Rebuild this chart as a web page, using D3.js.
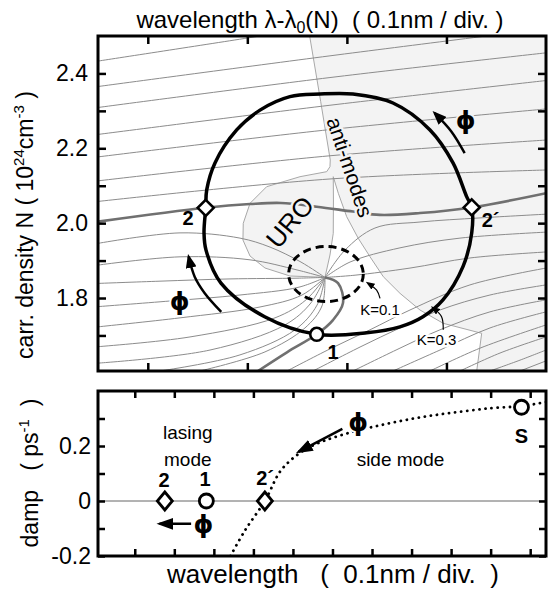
<!DOCTYPE html>
<html>
<head>
<meta charset="utf-8">
<script src="https://cdn.jsdelivr.net/npm/d3@7/dist/d3.min.js"></script>
<style>
  body { margin: 0; background: #fff; }
  text { font-family: "Liberation Sans", Arial, Helvetica, sans-serif; white-space: pre; }
  text.phi { font-family: "DejaVu Sans", sans-serif; font-weight: bold; }
</style>
</head>
<body>
<svg id="chart" width="550" height="590"></svg>
<script>

// ---------- top panel: x in 0.1nm divisions, N in 10^24 cm^-3 ----------
var nTicks = [1.7, 1.8, 1.9, 2.0, 2.1, 2.2, 2.3, 2.4]
var nLabels = [1.8, 2.0, 2.2, 2.4]
var nLabelText = ["1.8", "2.0", "2.2", "2.4"]
var lambdaTicks = [0.5, 1.5, 2.5, 3.5]

// thin contour lines
var contourLines = [
  [[0,2.433],[1.51,2.495],[2.33,2.53]],
  [[0,2.365],[2.33,2.447],[4.5,2.52]],
  [[0,2.309],[2.33,2.389],[4.5,2.455]],
  [[0,2.237],[2.33,2.315],[4.5,2.381]],
  [[0,2.177],[2.33,2.250],[4.5,2.305]],
  [[0,2.113],[2.33,2.180],[4.5,2.222]],
  [[0,2.058],[2.33,2.118],[4.5,2.142]],
  // running into the singular point from the left / bottom
  [[2.280,1.855],[2.039,1.896],[1.728,1.936],[1.426,1.960],[0.824,1.974],[0,1.946]],
  [[2.280,1.855],[1.999,1.875],[1.527,1.902],[0.824,1.910],[0,1.888]],
  [[2.280,1.855],[1.999,1.853],[1.326,1.851],[0.623,1.845],[0,1.839]],
  [[2.280,1.855],[2.019,1.829],[1.426,1.808],[0.723,1.792],[0,1.777]],
  [[2.280,1.855],[2.049,1.808],[1.627,1.776],[0.824,1.747],[0,1.723]],
  [[2.280,1.855],[2.089,1.795],[1.778,1.747],[0.924,1.696],[0,1.670]],
  [[2.280,1.855],[2.139,1.787],[1.878,1.728],[1.125,1.661],[0,1.626]],
  [[2.280,1.855],[2.200,1.781],[1.979,1.715],[1.426,1.648],[0.623,1.605]],
  [[2.280,1.855],[2.250,1.779],[2.079,1.720],[1.677,1.656],[1.025,1.605]],
  // out of the singular point to the right
  [[2.280,1.855],[2.481,1.928],[2.782,1.987],[3.234,2.003],[3.837,2.014],[4.5,2.024]],
  [[2.280,1.855],[2.531,1.896],[3.033,1.934],[3.636,1.960],[4.5,1.976]],
  [[2.280,1.855],[2.582,1.861],[3.134,1.880],[3.737,1.907],[4.5,1.923]],
  // up from the bottom edge
  [[1.898,1.605],[2.330,1.664],[2.732,1.715],[3.134,1.768],[3.736,1.835],[4.5,1.880]],
  [[2.160,1.605],[2.632,1.669],[3.033,1.720],[3.435,1.768],[3.937,1.808],[4.5,1.835]],
  [[2.561,1.605],[3.033,1.666],[3.435,1.715],[3.937,1.763],[4.5,1.795]],
  [[2.963,1.605],[3.435,1.661],[3.937,1.720],[4.5,1.763]],
  [[3.335,1.605],[3.837,1.666],[4.5,1.728]],
  [[3.636,1.605],[4.038,1.653],[4.5,1.696]],
  [[3.937,1.605],[4.239,1.634],[4.5,1.661]],
  [[4.239,1.605],[4.5,1.632]]
]

// darker contours through the lasing points
var lasingLine2 = [[0,2.004],[1.082,2.041],[1.527,2.051],[1.838,2.054],[2.197,2.044],[2.561,2.031],[2.832,2.022],[3.234,2.027],[3.754,2.042],[4.5,2.080]]
var lasingLine1 = [[2.280,1.855],[2.411,1.840],[2.461,1.787],[2.360,1.741],[2.197,1.703],[1.898,1.655],[1.607,1.605]]

// shaded anti-mode region (incl. URO)
var antiModeRegion = [[2.126,2.5],[2.237,2.3245],[2.333,2.1687],[2.330,2.1508],[2.297,2.1375],[2.029,2.1241],[1.694,2.0974],[1.527,2.0530],[1.459,1.9996],[1.456,1.9550],[1.527,1.9122],[1.677,1.8802],[1.928,1.8588],[2.280,1.8553],[2.330,1.9149],[2.363,1.9729],[2.365,2.0619],[2.363,2.1241],[2.414,2.0798],[2.498,2.0172],[2.614,1.9595],[2.732,1.9104],[2.866,1.8569],[3.033,1.8126],[3.234,1.7680],[3.468,1.7324],[3.854,1.7057],[3.804,1.605],[4.5,1.605],[4.5,2.5]]

// trajectory for K=0.3 and K=0.1
var loopK03 = [[1.082,2.041],[1.065,1.974],[1.085,1.928],[1.235,1.840],[1.674,1.750],[2.197,1.703],[2.699,1.707],[3.033,1.723],[3.264,1.750],[3.465,1.795],[3.666,1.884],[3.754,1.974],[3.754,2.042],[3.703,2.071],[3.566,2.161],[3.335,2.249],[2.963,2.321],[2.561,2.345],[2.230,2.345],[1.928,2.338],[1.627,2.302],[1.393,2.249],[1.175,2.161],[1.092,2.089]]
var loopK01Center = [2.29, 1.864]
var loopK01Radius = [0.375, 0.0735]

var topModes = [
  {name: "2", x: 1.082, n: 2.041, shape: "diamond"},
  {name: "2´", x: 3.754, n: 2.042, shape: "diamond"},
  {name: "1", x: 2.197, n: 1.703, shape: "circle"}
]
var topModeLabels = [
  {text: "2", x: 0.904, n: 2.014, anchor: "middle"},
  {text: "2´", x: 3.854, n: 2.008, anchor: "start"},
  {text: "1", x: 2.360, n: 1.657, anchor: "middle"}
]

var phiArrowRight = [[3.683,2.187],[3.549,2.245],[3.382,2.294]]
var phiArrowLeft = [[1.238,1.763],[1.072,1.813],[0.971,1.857],[0.911,1.910]]
var k01Arrow = [[2.833,1.799],[2.799,1.821],[2.715,1.839]]
var k03Arrow = [[3.468,1.715],[3.451,1.750],[3.368,1.773]]

var topNotes = [
  {text: "anti-modes", x: 2.531, n: 2.150, rotate: 71.4, size: 21, halo: "#f3f3f3"},
  {text: "URO", x: 1.928, n: 2.003, rotate: -50, size: 26, halo: "#f3f3f3"},
  {text: "K=0.1", x: 2.833, n: 1.770, rotate: 0, size: 15, halo: "#fff"},
  {text: "K=0.3", x: 3.401, n: 1.688, rotate: 0, size: 15, halo: "#fff"}
]
var topPhi = [{x: 3.693, n: 2.273, halo: "#f3f3f3"}, {x: 0.82, n: 1.790, halo: "#fff"}]

// ---------- bottom panel: damping (ps^-1) ----------
var dampTicks = [-0.2, -0.1, 0, 0.1, 0.2, 0.3]
var dampLabels = [-0.2, 0, 0.2]
var dampLabelText = ["-0.2", "0", "0.2"]
var divTicks = [1, 2, 3, 4, 5, 6, 7, 8, 9, 10, 11]

var sideModeX = [3.42, 3.80, 4.29, 4.69, 5.14, 5.58, 6.47, 7.36, 8.25, 9.14, 10.03, 10.78, 11.4]
var sideModeDamp = [-0.2, -0.104, 0, 0.11, 0.171, 0.207, 0.25, 0.28, 0.305, 0.323, 0.338, 0.345, 0.36]

var bottomModes = [
  {name: "2", x: 1.76, d: 0, shape: "diamond"},
  {name: "1", x: 2.81, d: 0, shape: "circle"},
  {name: "2´", x: 4.29, d: 0, shape: "diamond"},
  {name: "S", x: 10.78, d: 0.341, shape: "circle"}
]
var bottomModeLabels = [
  {text: "2", x: 1.74, d: 0.077, anchor: "middle"},
  {text: "1", x: 2.78, d: 0.08, anchor: "middle"},
  {text: "2´", x: 4.07, d: 0.085, anchor: "start"},
  {text: "S", x: 10.78, d: 0.238, anchor: "middle"}
]
var sideArrow = [[6.25,0.262],[5.14,0.179]]
var lasingArrow = [[2.425,-0.083],[1.625,-0.083]]
var bottomPhi = [{x: 6.65, d: 0.287}, {x: 2.74, d: -0.085}]
var bottomNotes = [
  {text: "lasing", x: 2.34, d: 0.25},
  {text: "mode", x: 2.34, d: 0.152},
  {text: "side mode", x: 7.72, d: 0.152}
]

// ---------- layout ----------
var svg = d3.select("#chart")

var panelA = {left: 98, right: 546, top: 36, bottom: 371}
var panelB = {left: 98, right: 546, top: 391, bottom: 556}

var xA = d3.scaleLinear().domain([0, 4.5]).range([panelA.left, panelA.right])
var yA = d3.scaleLinear().domain([1.605, 2.5]).range([panelA.bottom, panelA.top])
var xB = d3.scaleLinear().domain([0.07, 11.4]).range([panelB.left, panelB.right])
var yB = d3.scaleLinear().domain([-0.2, 0.4]).range([panelB.bottom, panelB.top])

var defs = svg.append("defs")
defs.append("clipPath").attr("id", "clipA").append("rect")
    .attr("x", panelA.left).attr("y", panelA.top)
    .attr("width", panelA.right - panelA.left).attr("height", panelA.bottom - panelA.top)
defs.append("clipPath").attr("id", "clipB").append("rect")
    .attr("x", panelB.left).attr("y", panelB.top)
    .attr("width", panelB.right - panelB.left).attr("height", panelB.bottom - panelB.top)

function arrowHead(id, len, wid) {
  defs.append("marker").attr("id", id)
      .attr("markerUnits", "userSpaceOnUse")
      .attr("viewBox", "0 " + (-wid / 2) + " " + len + " " + wid)
      .attr("refX", len - 3).attr("refY", 0)
      .attr("markerWidth", len).attr("markerHeight", wid)
      .attr("orient", "auto")
    .append("path")
      .attr("d", "M0," + (-wid / 2) + "L" + len + ",0L0," + (wid / 2) + "Z")
      .attr("fill", "#000")
}
arrowHead("headBig", 17, 12)
arrowHead("headMid", 14, 11)
arrowHead("headSmall", 9, 7)

var diamond = "M0,-8L8,0L0,8L-8,0Z"

// ---------- top panel ----------
var gA = svg.append("g").attr("clip-path", "url(#clipA)")

var polyA = d3.line().x(d => xA(d[0])).y(d => yA(d[1])).curve(d3.curveLinearClosed)
var smoothA = d3.line().x(d => xA(d[0])).y(d => yA(d[1])).curve(d3.curveCatmullRom.alpha(0.5))
var loopA = d3.line().x(d => xA(d[0])).y(d => yA(d[1])).curve(d3.curveCatmullRomClosed.alpha(0.5))

gA.append("path").datum(antiModeRegion)
    .attr("d", polyA)
    .attr("fill", "#f3f3f3")
    .attr("stroke", "#a8a8a8")
    .attr("stroke-width", 1)

gA.selectAll(".contour")
    .data(contourLines)
    .enter()
    .append("path")
    .attr("class", "contour")
    .attr("d", smoothA)
    .attr("fill", "none")
    .attr("stroke", "#8c8c8c")
    .attr("stroke-width", 1)

gA.selectAll(".lasing")
    .data([lasingLine2, lasingLine1])
    .enter()
    .append("path")
    .attr("class", "lasing")
    .attr("d", smoothA)
    .attr("fill", "none")
    .attr("stroke", "#707070")
    .attr("stroke-width", 2.6)

gA.append("ellipse")
    .attr("cx", xA(loopK01Center[0]))
    .attr("cy", yA(loopK01Center[1]))
    .attr("rx", xA(loopK01Center[0] + loopK01Radius[0]) - xA(loopK01Center[0]))
    .attr("ry", yA(loopK01Center[1]) - yA(loopK01Center[1] + loopK01Radius[1]))
    .attr("fill", "none")
    .attr("stroke", "#000")
    .attr("stroke-width", 3)
    .attr("stroke-dasharray", "8,5")

gA.append("path").datum(loopK03)
    .attr("d", loopA)
    .attr("fill", "none")
    .attr("stroke", "#000")
    .attr("stroke-width", 3.5)

gA.selectAll(".phiArrow")
    .data([phiArrowRight, phiArrowLeft])
    .enter()
    .append("path")
    .attr("d", smoothA)
    .attr("fill", "none")
    .attr("stroke", "#000")
    .attr("stroke-width", 2.5)
    .attr("marker-end", "url(#headMid)")

gA.selectAll(".kArrow")
    .data([k01Arrow, k03Arrow])
    .enter()
    .append("path")
    .attr("d", smoothA)
    .attr("fill", "none")
    .attr("stroke", "#000")
    .attr("stroke-width", 1.2)
    .attr("marker-end", "url(#headSmall)")

gA.selectAll(".note")
    .data(topNotes)
    .enter()
    .append("text")
    .attr("x", d => xA(d.x))
    .attr("y", d => yA(d.n))
    .attr("transform", d => "rotate(" + d.rotate + "," + xA(d.x) + "," + yA(d.n) + ")")
    .attr("text-anchor", "middle")
    .attr("dominant-baseline", "central")
    .attr("font-size", d => d.size)
    .attr("paint-order", "stroke")
    .attr("stroke", d => d.halo)
    .attr("stroke-width", 5)
    .attr("stroke-linejoin", "round")
    .text(d => d.text)

gA.selectAll(".phiA")
    .data(topPhi)
    .enter()
    .append("text")
    .attr("class", "phi")
    .attr("x", d => xA(d.x))
    .attr("y", d => yA(d.n))
    .attr("text-anchor", "middle")
    .attr("dominant-baseline", "central")
    .attr("font-size", 25)
    .attr("paint-order", "stroke")
    .attr("stroke", d => d.halo)
    .attr("stroke-width", 4)
    .text("ϕ")

gA.selectAll(".modeA")
    .data(topModes)
    .enter()
    .append(d => document.createElementNS("http://www.w3.org/2000/svg", d.shape == "circle" ? "circle" : "path"))
    .attr("transform", d => "translate(" + xA(d.x) + "," + yA(d.n) + ")")
    .attr("d", d => d.shape == "diamond" ? diamond : null)
    .attr("r", d => d.shape == "circle" ? 6.5 : null)
    .attr("fill", "#fff")
    .attr("stroke", "#000")
    .attr("stroke-width", 2.6)

gA.selectAll(".modeLabelA")
    .data(topModeLabels)
    .enter()
    .append("text")
    .attr("x", d => xA(d.x))
    .attr("y", d => yA(d.n))
    .attr("text-anchor", d => d.anchor)
    .attr("dominant-baseline", "central")
    .attr("font-size", 20)
    .attr("font-weight", "bold")
    .text(d => d.text)

// ---------- bottom panel ----------
var gB = svg.append("g").attr("clip-path", "url(#clipB)")

gB.append("line")
    .attr("x1", xB(xB.domain()[0])).attr("x2", xB(xB.domain()[1]))
    .attr("y1", yB(0)).attr("y2", yB(0))
    .attr("stroke", "#666")
    .attr("stroke-width", 1)

var sideLine = d3.line()
    .x((d, i) => xB(sideModeX[i]))
    .y(d => yB(d))
    .curve(d3.curveCatmullRom.alpha(0.5))

gB.append("path").datum(sideModeDamp)
    .attr("d", sideLine)
    .attr("fill", "none")
    .attr("stroke", "#000")
    .attr("stroke-width", 2.8)
    .attr("stroke-linecap", "round")
    .attr("stroke-dasharray", "0.1,6")

gB.selectAll(".arrowB")
    .data([sideArrow, lasingArrow])
    .enter()
    .append("line")
    .attr("x1", d => xB(d[0][0])).attr("y1", d => yB(d[0][1]))
    .attr("x2", d => xB(d[1][0])).attr("y2", d => yB(d[1][1]))
    .attr("stroke", "#000")
    .attr("stroke-width", 2.5)
    .attr("marker-end", "url(#headBig)")

gB.selectAll(".noteB")
    .data(bottomNotes)
    .enter()
    .append("text")
    .attr("x", d => xB(d.x))
    .attr("y", d => yB(d.d))
    .attr("text-anchor", "middle")
    .attr("dominant-baseline", "central")
    .attr("font-size", 19)
    .text(d => d.text)

gB.selectAll(".phiB")
    .data(bottomPhi)
    .enter()
    .append("text")
    .attr("class", "phi")
    .attr("x", d => xB(d.x))
    .attr("y", d => yB(d.d))
    .attr("text-anchor", "middle")
    .attr("dominant-baseline", "central")
    .attr("font-size", 25)
    .attr("paint-order", "stroke")
    .attr("stroke", "#fff")
    .attr("stroke-width", 4)
    .text("ϕ")

gB.selectAll(".modeB")
    .data(bottomModes)
    .enter()
    .append(d => document.createElementNS("http://www.w3.org/2000/svg", d.shape == "circle" ? "circle" : "path"))
    .attr("transform", d => "translate(" + xB(d.x) + "," + yB(d.d) + ")")
    .attr("d", d => d.shape == "diamond" ? "M0,-9L7.5,0L0,9L-7.5,0Z" : null)
    .attr("r", d => d.shape == "circle" ? 7 : null)
    .attr("fill", "#fff")
    .attr("stroke", "#000")
    .attr("stroke-width", 2.8)

gB.selectAll(".modeLabelB")
    .data(bottomModeLabels)
    .enter()
    .append("text")
    .attr("x", d => xB(d.x))
    .attr("y", d => yB(d.d))
    .attr("text-anchor", d => d.anchor)
    .attr("dominant-baseline", "central")
    .attr("font-size", 20)
    .attr("font-weight", "bold")
    .text(d => d.text)

// ---------- frames and axes ----------
function frame(p) {
  svg.append("rect")
      .attr("x", p.left).attr("y", p.top)
      .attr("width", p.right - p.left).attr("height", p.bottom - p.top)
      .attr("fill", "none")
      .attr("stroke", "#000")
      .attr("stroke-width", 3)
}

function styleAxis(g, size) {
  g.select(".domain").remove()
  g.selectAll(".tick line").attr("stroke-width", 2.5)
  g.attr("font-size", size).attr("fill", "#000")
  g.selectAll(".tick text").attr("fill", "#000")
}

frame(panelA)
frame(panelB)

svg.append("g").attr("transform", "translate(" + panelA.left + ",0)")
    .call(d3.axisLeft(yA).tickValues(nTicks).tickSizeInner(-8).tickSizeOuter(0).tickPadding(10)
      .tickFormat(d => { var i = nLabels.indexOf(d); return i < 0 ? "" : nLabelText[i] }))
    .call(g => styleAxis(g, 23))
svg.append("g").attr("transform", "translate(" + panelA.right + ",0)")
    .call(d3.axisRight(yA).tickValues(nTicks).tickSizeInner(-8).tickSizeOuter(0).tickFormat(""))
    .call(g => styleAxis(g, 23))
svg.append("g").attr("transform", "translate(0," + panelA.top + ")")
    .call(d3.axisTop(xA).tickValues(lambdaTicks).tickSizeInner(-8).tickSizeOuter(0).tickFormat(""))
    .call(g => styleAxis(g, 23))
svg.append("g").attr("transform", "translate(0," + panelA.bottom + ")")
    .call(d3.axisBottom(xA).tickValues(lambdaTicks).tickSizeInner(-8).tickSizeOuter(0).tickFormat(""))
    .call(g => styleAxis(g, 23))

svg.append("g").attr("transform", "translate(" + panelB.left + ",0)")
    .call(d3.axisLeft(yB).tickValues(dampTicks).tickSizeInner(-7).tickSizeOuter(0).tickPadding(7)
      .tickFormat(d => { var i = dampLabels.indexOf(d); return i < 0 ? "" : dampLabelText[i] }))
    .call(g => styleAxis(g, 23))
svg.append("g").attr("transform", "translate(" + panelB.right + ",0)")
    .call(d3.axisRight(yB).tickValues(dampTicks).tickSizeInner(-7).tickSizeOuter(0).tickFormat(""))
    .call(g => styleAxis(g, 23))
svg.append("g").attr("transform", "translate(0," + panelB.top + ")")
    .call(d3.axisTop(xB).tickValues(divTicks).tickSizeInner(-7).tickSizeOuter(0).tickFormat(""))
    .call(g => styleAxis(g, 23))
svg.append("g").attr("transform", "translate(0," + panelB.bottom + ")")
    .call(d3.axisBottom(xB).tickValues(divTicks).tickSizeInner(-7).tickSizeOuter(0).tickFormat(""))
    .call(g => styleAxis(g, 23))

// ---------- axis titles ----------
var title = svg.append("text")
    .attr("x", 320).attr("y", 28)
    .attr("text-anchor", "middle")
    .attr("font-size", 24)
title.append("tspan").text("wavelength λ-λ")
title.append("tspan").attr("font-size", 16).attr("dy", 5).text("0")
title.append("tspan").attr("dy", -5).text("(N)  ( 0.1nm / div. )")

svg.append("text")
    .attr("x", 333).attr("y", 583)
    .attr("text-anchor", "middle")
    .attr("font-size", 26)
    .text("wavelength   (  0.1nm / div.  )")

var yTitleA = svg.append("text")
    .attr("transform", "translate(33,225) rotate(-90)")
    .attr("text-anchor", "middle")
    .attr("font-size", 23)
yTitleA.append("tspan").text("carr. density N ( 10")
yTitleA.append("tspan").attr("font-size", 15).attr("dy", -9).text("24")
yTitleA.append("tspan").attr("dy", 9).text("cm")
yTitleA.append("tspan").attr("font-size", 15).attr("dy", -9).text("-3")
yTitleA.append("tspan").attr("dy", 9).text(" )")

var yTitleB = svg.append("text")
    .attr("transform", "translate(38,473) rotate(-90)")
    .attr("text-anchor", "middle")
    .attr("font-size", 23)
yTitleB.append("tspan").text("damp   ( ps")
yTitleB.append("tspan").attr("font-size", 15).attr("dy", -9).text("-1")
yTitleB.append("tspan").attr("dy", 9).text("  )")

</script>
</body>
</html>
